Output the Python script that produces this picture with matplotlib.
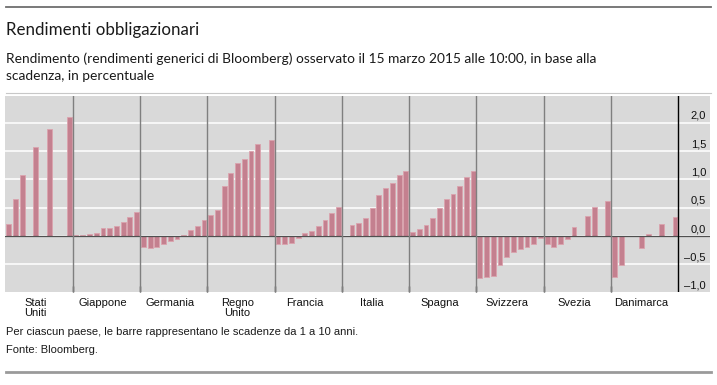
import numpy as np
import matplotlib
matplotlib.use('Agg')
import matplotlib.pyplot as plt
from matplotlib.lines import Line2D

nan = np.nan

countries = ['Stati\nUniti', 'Giappone', 'Germania', 'Regno\nUnito', 'Francia',
             'Italia', 'Spagna', 'Svizzera', 'Svezia', 'Danimarca']
maturities = list(range(1, 11))

# yields by maturity 1..10 years, nan where no bar is shown
stati_uniti = [0.22, 0.66, 1.07, nan, 1.58, nan, 1.90, nan, nan, 2.10]
giappone = [0.01, 0.02, 0.035, 0.06, 0.135, 0.135, 0.18, 0.25, 0.33, 0.42]
germania = [-0.20, -0.22, -0.20, -0.15, -0.08, -0.05, 0.01, 0.11, 0.18, 0.28]
regno_unito = [0.37, 0.46, 0.89, 1.12, 1.29, 1.36, 1.51, 1.62, nan, 1.69]
francia = [-0.15, -0.135, -0.12, -0.03, 0.05, 0.09, 0.18, 0.28, 0.40, 0.51]
italia = [nan, 0.19, 0.23, 0.32, 0.49, 0.72, 0.84, 0.93, 1.08, 1.15]
spagna = [0.07, 0.12, 0.19, 0.31, 0.50, 0.65, 0.74, 0.88, 1.04, 1.15]
svizzera = [-0.75, -0.72, -0.70, -0.52, -0.37, -0.29, -0.23, -0.19, -0.15, -0.03]
svezia = [-0.15, -0.19, -0.15, -0.05, 0.16, nan, 0.35, 0.51, nan, 0.61]
danimarca = [-0.72, -0.52, nan, nan, -0.22, 0.04, nan, 0.22, nan, 0.34]

series = [stati_uniti, giappone, germania, regno_unito, francia,
          italia, spagna, svizzera, svezia, danimarca]

yticks = [-1.0, -0.5, 0.0, 0.5, 1.0, 1.5, 2.0]

W, H = 717, 385
BAR = '#c4808f'
EDGE = '#dba3ae'
BG = '#d9d9d9'

fig = plt.figure(figsize=(W / 100, H / 100), dpi=100)
ax = fig.add_axes([5.4 / W, 1 - 291.7 / H, (710 - 5.4) / W, (291.7 - 96) / H])
ax.set_facecolor(BG)
for s in ax.spines.values():
    s.set_visible(False)

n = len(maturities)
xmax = 104.7
ax.set_xlim(0, xmax)
ax.set_ylim(-0.985, 2.475)

for v in yticks:
    ax.axhline(v, color='white', lw=1.1, zorder=1)

for g, vals in enumerate(series):
    vals = np.array(vals, dtype=float)
    pos = g * n + np.arange(n) + 0.5
    ok = ~np.isnan(vals)
    ax.bar(pos[ok], vals[ok], width=0.72, color=BAR, edgecolor=EDGE,
           linewidth=0.6, zorder=2)

ax.axhline(0, color='#505050', lw=0.9, zorder=3)
for g in range(1, len(series)):
    ax.axvline(g * n, color='#7f7f7f', lw=1.0, zorder=3)
ax.axvline(len(series) * n, color='black', lw=1.0, zorder=3)

ax.set_xticks([g * n for g in range(1, len(series))])
ax.set_xticklabels([])
ax.tick_params(axis='x', direction='in', length=4, width=1, color='#333333')
ax.set_yticks([])

lab_font = {'family': 'Liberation Sans', 'size': 8}
x_lab = (706 - 5.4) / 6.73
for v in yticks:
    txt = ('%.1f' % v).replace('.', ',').replace('-', '\u2013')
    ax.text(x_lab, v + 0.035, txt, ha='right', va='bottom', color='#111111', **lab_font)

for g, name in enumerate(countries):
    ax.text(g * n + 4.5, -1.1, name, ha='center', va='top', linespacing=1.0,
            multialignment='center', color='#111111', **lab_font)

# header and footer
fig.add_artist(Line2D([6 / W, 711 / W], [1 - 7 / H, 1 - 7 / H], color='#6e6e6e', lw=1.3))
fig.add_artist(Line2D([6 / W, 711 / W], [1 - 93.3 / H, 1 - 93.3 / H], color='#c8c8c8', lw=0.8))
fig.add_artist(Line2D([6 / W, 711 / W], [1 - 372 / H, 1 - 372 / H], color='#9a9a9a', lw=2.0))

fig.text(6 / W, 1 - 35 / H, 'Rendimenti obbligazionari', family='Lato', size=12.2,
         va='baseline', color='#1a1a1a')
fig.text(6 / W, 1 - 63.3 / H,
         'Rendimento (rendimenti generici di Bloomberg) osservato il 15 marzo 2015 alle 10:00, in base alla',
         family='Lato', size=9.95, va='baseline', color='#1a1a1a')
fig.text(6 / W, 1 - 80 / H, 'scadenza, in percentuale', family='Lato', size=9.95,
         va='baseline', color='#1a1a1a')

fig.text(6 / W, 1 - 335 / H,
         'Per ciascun paese, le barre rappresentano le scadenze da 1 a 10 anni.',
         va='baseline', color='#1a1a1a', family='Liberation Sans', size=8)
fig.text(6 / W, 1 - 353 / H, 'Fonte: Bloomberg.', va='baseline', color='#1a1a1a',
         family='Liberation Sans', size=8)

fig.savefig('out.png', dpi=100)
